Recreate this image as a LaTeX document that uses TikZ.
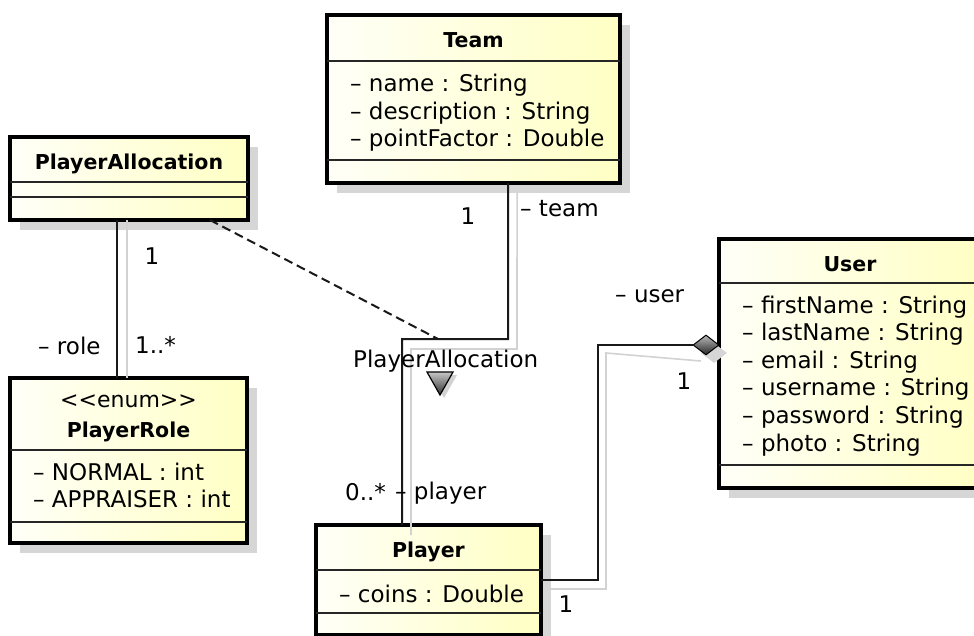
\documentclass[tikz,border=0pt]{standalone}
\usepackage{fontspec}
\setmainfont{DejaVu Sans}
\usetikzlibrary{calc,shapes.geometric}
\definecolor{boxL}{RGB}{255,255,248}
\definecolor{boxR}{RGB}{255,255,196}
\definecolor{boxshadow}{RGB}{214,214,214}
\definecolor{lshade}{RGB}{210,210,210}
\newcommand\classshadow[4]{\fill[boxshadow] (#1+10,#2+10) rectangle (#3+10,#4+10);}
\begin{document}
\begin{tikzpicture}[x=1pt,y=-1pt,
  classbox/.style={draw=black, line width=3.5pt, left color=boxL, right color=boxR,
    inner sep=0pt, outer sep=0pt, anchor=north west},
  sepline/.style={draw=black!85, line width=1.4pt},
  title/.style={anchor=base, inner sep=0pt, font=\bfseries\fontsize{20.5}{25}\selectfont},
  attr/.style={anchor=base west, inner sep=0pt, font=\fontsize{23}{28}\selectfont},
  lbl/.style={anchor=base, inner sep=0pt, font=\fontsize{23}{28}\selectfont},
  lblw/.style={anchor=base west, inner sep=0pt, font=\fontsize{23}{28}\selectfont},
  assoc/.style={draw=black!90, line width=2pt},
  lshadow/.style={draw=lshade, line width=1.6pt},
  assocclass/.style={draw=black!90, line width=2pt, dash pattern=on 9pt off 5pt}
]
\useasboundingbox (0,0) rectangle (974,636);
\fill[white] (0,0) rectangle (974,636);

% drop shadows of the classes
\classshadow{327}{15}{620}{183}
\classshadow{10}{137}{248}{220}
\classshadow{10}{378}{247}{543}
\classshadow{316}{525}{541}{635}
\classshadow{719}{239}{981}{488}

% classes
\node[classbox, minimum width=293pt, minimum height=168pt] (team) at (327,15) {};
\node[classbox, minimum width=238pt, minimum height=83pt] (pa) at (10,137) {};
\node[classbox, minimum width=237pt, minimum height=165pt] (role) at (10,378) {};
\node[classbox, minimum width=225pt, minimum height=110pt] (player) at (316,525) {};
\node[classbox, minimum width=262pt, minimum height=249pt] (user) at (719,239) {};

% compartment separators
\draw[sepline] (327,61) -- (620,61);
\draw[sepline] (327,160) -- (620,160);
\draw[sepline] (10,182) -- (248,182);
\draw[sepline] (10,197) -- (248,197);
\draw[sepline] (10,450) -- (247,450);
\draw[sepline] (10,522) -- (247,522);
\draw[sepline] (316,570) -- (541,570);
\draw[sepline] (316,613) -- (541,613);
\draw[sepline] (719,283) -- (981,283);
\draw[sepline] (719,465) -- (981,465);

% Team
\node[title] (teamT) at (473.5,48) {Team};
\node[attr] (teamA1) at (350,92) {\textendash{} name : String};
\node[attr] (teamA2) at (350,119.5) {\textendash{} description : String};
\node[attr] (teamA3) at (350,147) {\textendash{} pointFactor : Double};

% PlayerAllocation
\node[title] (paT) at (129,170) {PlayerAllocation};

% PlayerRole
\node[lbl, font=\fontsize{22}{26}\selectfont] (roleS) at (128.5,407) {<{}<enum>{}>};
\node[title] (roleT) at (128.5,437) {PlayerRole};
\node[attr] (roleA1) at (33,480) {\textendash{} NORMAL : int};
\node[attr] (roleA2) at (33,507) {\textendash{} APPRAISER : int};

% Player
\node[title] (playerT) at (428.5,557) {Player};
\node[attr] (playerA1) at (339,602) {\textendash{} coins : Double};

% User
\node[title] (userT) at (850,272) {User};
\node[attr] (userA1) at (742,313) {\textendash{} firstName : String};
\node[attr] (userA2) at (742,340.6) {\textendash{} lastName : String};
\node[attr] (userA3) at (742,368.2) {\textendash{} email : String};
\node[attr] (userA4) at (742,395.8) {\textendash{} username : String};
\node[attr] (userA5) at (742,423.4) {\textendash{} password : String};
\node[attr] (userA6) at (742,451) {\textendash{} photo : String};

% bend points of the associations
\coordinate (tpA) at ($(team.south west)!0.618!(team.south east)$);
\coordinate (tpB) at (508,339);
\coordinate (tpC) at (402,339);
\coordinate (paA) at ($(pa.south west)!0.45!(pa.south east)$);
\coordinate (paD) at ($(pa.south west)!0.84!(pa.south east)$);
\coordinate (puB) at (598,345);
\coordinate (acEnd) at (438,339);

% aggregation diamond at User
\node[diamond, fill=boxshadow, minimum width=26pt, minimum height=20pt, inner sep=0pt] (aggS) at (714,353) {};

% connector shadows
\draw[lshadow] ([xshift=9pt,yshift=-10pt]tpA) -- ([xshift=9pt,yshift=-10pt]tpB)
  -- ([xshift=9pt,yshift=-10pt]tpC) -- ([xshift=9pt,yshift=-10pt]tpC |- player.north);
\draw[lshadow] ([xshift=10pt]paA) -- ([xshift=10pt]paA |- role.north);
\draw[lshadow] ([xshift=8pt,yshift=-9pt]player.east) -| ([xshift=8pt,yshift=-8pt]puB)
  -- ([yshift=-8pt]aggS.west);

% connectors
\draw[assoc] (tpA) -- (tpB) -- (tpC) -- (tpC |- player.north);
\draw[assoc] (paA) -- (paA |- role.north);
\draw[assocclass] (paD) -- (acEnd);

\node[diamond, draw=black, line width=1pt, top color=gray!55, bottom color=black!85,
  minimum width=26pt, minimum height=20pt, inner sep=0pt] (agg) at (706,345) {};
\draw[assoc] (player.east) -| (puB) -- (agg.west);

% association name and reading direction
\node[lblw] (acName) at (353,367) {PlayerAllocation};
\fill[lshade] (431,375) -- (457,375) -- (444,398) -- cycle;
\draw[black, line width=1.2pt, top color=gray!45, bottom color=black!80]
  (427,372) -- (453,372) -- (440,395) -- cycle;

% role names and multiplicities
\node[lbl] (mTeam) at (468,225) {1};
\node[lblw] (rTeam) at (520,217) {\textendash{} team};
\node[lblw] (mPlayer) at (345,500) {0..*};
\node[lblw] (rPlayer) at (395,499) {\textendash{} player};
\node[lbl] (mPU) at (566,612) {1};
\node[lbl] (mUser) at (684,389) {1};
\node[lblw] (rUser) at (615,302) {\textendash{} user};
\node[lbl] (mPA) at (152,265) {1};
\node[lblw] (mRole) at (135,353) {1..*};
\node[lblw] (rRole) at (38,354) {\textendash{} role};
\end{tikzpicture}
\end{document}
